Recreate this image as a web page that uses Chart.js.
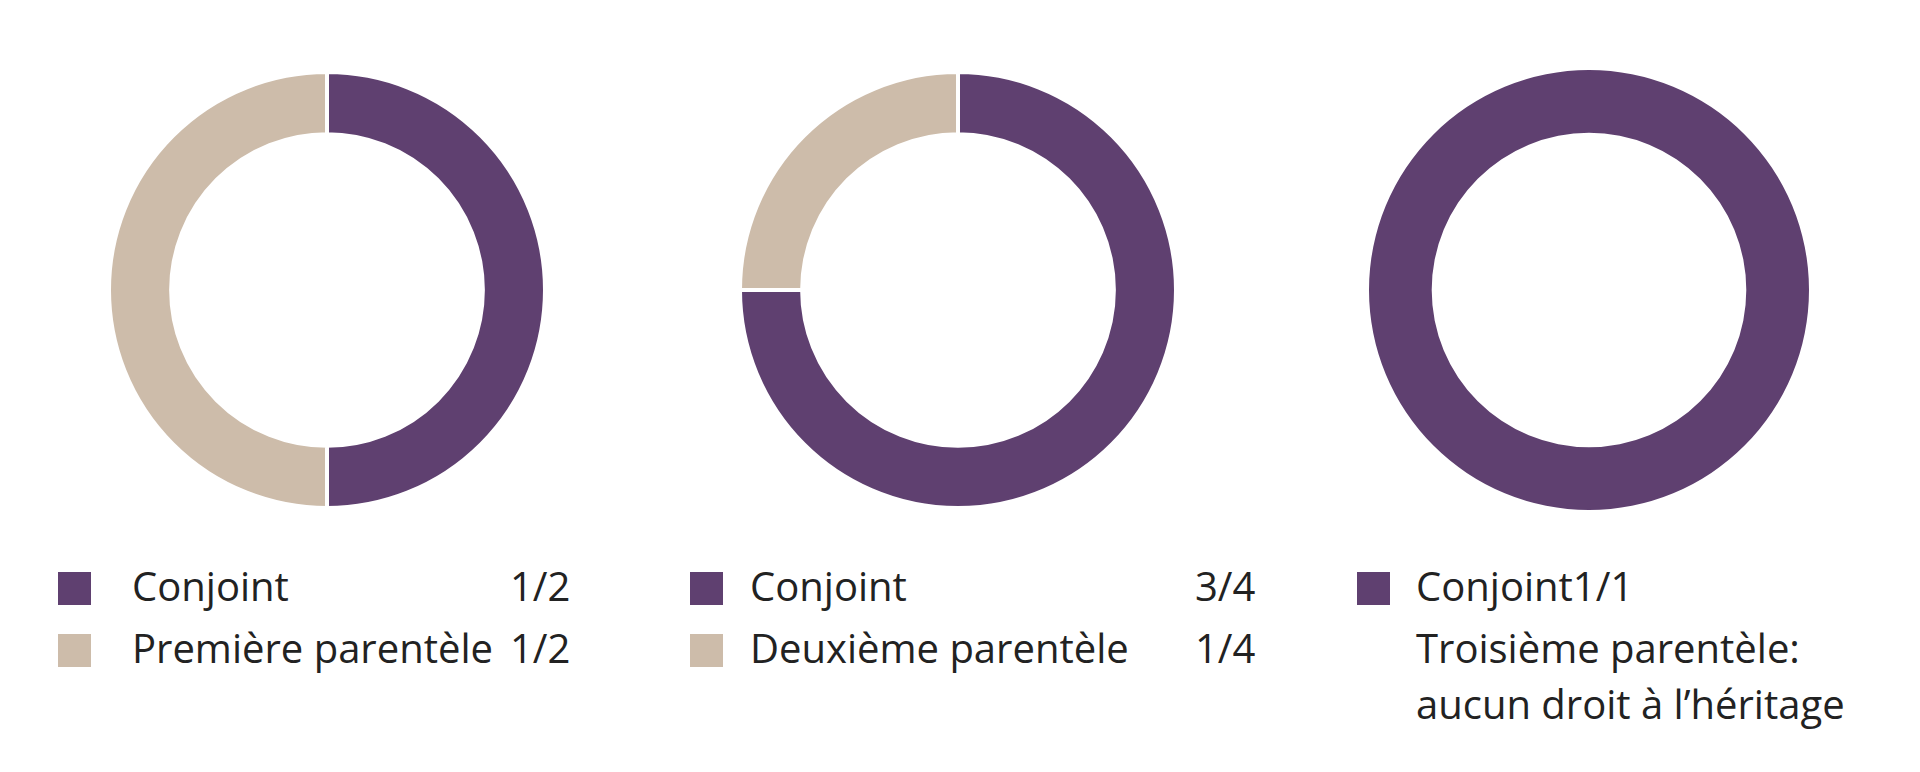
<!DOCTYPE html>
<html><head><meta charset="utf-8">
<script src="https://cdn.jsdelivr.net/npm/chart.js@4/dist/chart.umd.min.js"></script>
<style>
body{margin:0;width:1920px;height:772px;background:#fff;position:relative;overflow:hidden;font-family:"Open Sans","Noto Sans",sans-serif;color:#222}
canvas{position:absolute}
.t{position:absolute;font-size:40px;line-height:40px;white-space:nowrap}
.sq{position:absolute;width:33px;height:33px}
</style></head><body>
<canvas id="c0" width="460" height="460" style="left:97px;top:60px"></canvas>
<canvas id="c1" width="460" height="460" style="left:728px;top:60px"></canvas>
<canvas id="c2" width="460" height="460" style="left:1359px;top:60px"></canvas>
<div id="leg"></div>
<script>
const labels = [["Conjoint","Première parentèle"],["Conjoint","Deuxième parentèle"],["Conjoint"]];
const values = [[1,1],[3,1],[1]];
const fractions = [["1/2","1/2"],["3/4","1/4"],["1/1"]];
const colors = ["#5f4070","#cdbcaa"];
const note = ["Troisième parentèle:","aucun droit à l’héritage"];

values.forEach((v,i)=>{
  new Chart(document.getElementById('c'+i),{
    type:'doughnut',
    data:{labels:labels[i],datasets:[{data:v,backgroundColor:colors.slice(0,v.length),borderColor:'#fff',borderWidth:v.length>1?4:0}]},
    options:{responsive:false,animation:false,cutout:'71.5%',layout:{padding:10},
      plugins:{legend:{display:false},tooltip:{enabled:false}}}
  });
});
const leg=document.getElementById('leg');
const lx=[58,690,1357], tx=[132,750,1416], fx=[510,1195,null];
labels.forEach((l,i)=>{
  l.forEach((s,j)=>{
    const y=572+j*62;
    leg.insertAdjacentHTML('beforeend',`<div class="sq" style="left:${lx[i]}px;top:${y}px;background:${colors[j]}"></div>`);
    const txt = fx[i]===null ? s+fractions[i][j] : s;
    leg.insertAdjacentHTML('beforeend',`<div class="t" style="left:${tx[i]}px;top:${y-6}px">${txt}</div>`);
    if(fx[i]!==null) leg.insertAdjacentHTML('beforeend',`<div class="t" style="left:${fx[i]}px;top:${y-6}px">${fractions[i][j]}</div>`);
  });
});
note.forEach((s,k)=>leg.insertAdjacentHTML('beforeend',`<div class="t" style="left:1416px;top:${628+k*56}px">${s}</div>`));
</script>
</body></html>
